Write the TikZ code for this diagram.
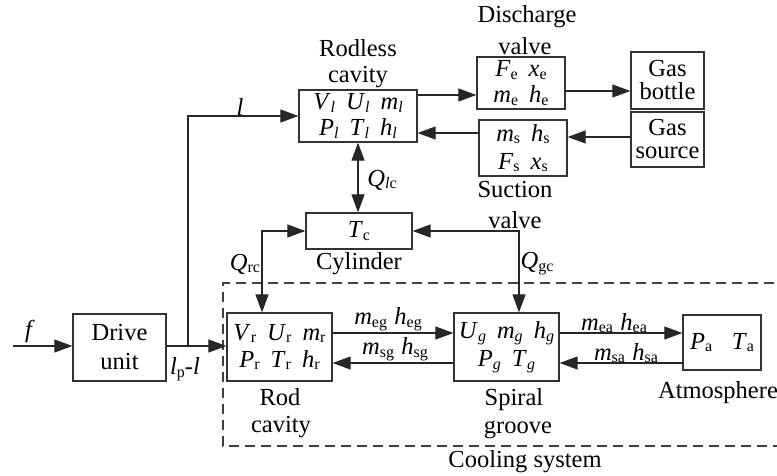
\documentclass[tikz,border=0pt]{standalone}
\usepackage{fontspec}
\setmainfont{Liberation Serif}
\usetikzlibrary{arrows.meta}
\newcommand\vr[2]{\textit{#1}\raisebox{-0.25ex}{\fontsize{16}{16}\selectfont #2}}
\newcommand\sep{\hspace{0.45em}}
\begin{document}
\begin{tikzpicture}[x=1pt,y=-1pt,
  every node/.style={font=\fontsize{24.5}{26}\selectfont, inner sep=0pt},
  blk/.style={draw=black!80, line width=1.3pt, align=center},
  lbl/.style={align=center},
  ln/.style={draw=black!85, line width=1.2pt},
  arr/.style={ln, -{Triangle[length=18pt,width=13pt]}},
  arrb/.style={ln, {Triangle[length=18pt,width=13pt]}-{Triangle[length=18pt,width=13pt]}}]
\useasboundingbox (0,0) rectangle (777,476);
% dashed cooling system
\draw[black!75, line width=1.1pt, dash pattern=on 10pt off 6pt] (790,283) -- (223,283) -- (223,446) -- (790,446);
% boxes
\node[blk, minimum width=118pt, minimum height=52pt] (rl) at (358,116) {\vr{V}{\textit{l}}\sep\vr{U}{\textit{l}}\sep\vr{m}{\textit{l}}\\[0pt]\vr{P}{\textit{l}}\sep\vr{T}{\textit{l}}\sep\vr{h}{\textit{l}}};
\node[blk, minimum width=88pt, minimum height=52pt] (dv) at (521,83) {\vr{F}{e}\sep\vr{x}{e}\\[0pt]\vr{m}{e}\sep\vr{h}{e}};
\node[blk, minimum width=73pt, minimum height=57pt] (gb) at (667.5,80.5) {Gas\\[-3pt]bottle};
\node[blk, minimum width=73pt, minimum height=55pt] (gs) at (667.5,139.5) {Gas\\[-3pt]source};
\node[blk, minimum width=88pt, minimum height=56pt] (sv) at (523,148) {\vr{m}{s}\sep\vr{h}{s}\\[2pt]\vr{F}{s}\sep\vr{x}{s}};
\node[blk, minimum width=106pt, minimum height=36pt] (cy) at (359,231) {\vr{T}{c}};
\node[blk, minimum width=93pt, minimum height=67pt] (du) at (119.5,347.5) {Drive\\[3pt]unit};
\node[blk, minimum width=105pt, minimum height=68pt] (rc) at (279.5,347) {\vr{V}{r}\sep\vr{U}{r}\sep\vr{m}{r}\\[1pt]\vr{P}{r}\sep\vr{T}{r}\sep\vr{h}{r}};
\node[blk, minimum width=105pt, minimum height=68pt] (sg) at (506.5,347) {\vr{U}{\textit{g}}\sep\vr{m}{\textit{g}}\sep\vr{h}{\textit{g}}\\[2pt]\vr{P}{\textit{g}}\sep\vr{T}{\textit{g}}\hspace{2.3em}};
\node[blk, minimum width=78pt, minimum height=55pt] (at) at (722,342.5) {\vr{P}{a}\hspace{0.8em}\vr{T}{a}};
% captions
\node[lbl] (c1) at (358,48) {Rodless};
\node[lbl] (c2) at (358,77) {cavity};
\node[lbl] (c3) at (527,17) {Discharge};
\node[lbl] (c4) at (525,46) {valve};
\node[lbl] (c5) at (515,190) {Suction};
\node[lbl] (c6) at (515,220) {valve};
\node[lbl] (c7) at (359,264) {Cylinder};
\node[lbl] (c8) at (280,397) {Rod};
\node[lbl] (c9) at (281,427) {cavity};
\node[lbl] (c10) at (514,400) {Spiral};
\node[lbl] (c11) at (518,430) {groove};
\node[lbl] (c12) at (718,393) {Atmosphere};
\node[lbl] (c13) at (525,462) {Cooling system};
% connector labels
\node (lf) at (30,331) {\textit{f}};
\node (ll) at (240,107) {\textit{l}};
\node (llp) at (185,369) {\textit{l}\raisebox{-0.25ex}{\fontsize{16}{16}\selectfont p}-\textit{l}};
\node (qlc) at (382,180) {\vr{Q}{\textit{l}c}};
\node (qrc) at (245,264) {\vr{Q}{rc}};
\node (qgc) at (537,264) {\vr{Q}{gc}};
\node (meg) at (388,319) {\vr{m}{eg}\hspace{0.3em}\vr{h}{eg}};
\node (msg) at (395,349) {\vr{m}{sg}\hspace{0.3em}\vr{h}{sg}};
\node (mea) at (614,323) {\vr{m}{ea}\hspace{0.3em}\vr{h}{ea}};
\node (msa) at (626,353) {\vr{m}{sa}\hspace{0.3em}\vr{h}{sa}};
% coordinates
\coordinate (fin) at (13,346);
\coordinate (br) at (188,346);
\coordinate (xr) at (262,231);
\coordinate (xg) at (519,231);
% connectors
\draw[arr] (fin) -- (du.west |- fin);
\draw[arr] (du.east |- br) -- (rc.west |- br);
\draw[arr] (br) |- (rl.west);
\draw[arr] (rl.east |- 0,95) -- (dv.west |- 0,95);
\draw[arr] (dv.east |- 0,91) -- (gb.west |- 0,91);
\draw[arr] (gs.west |- 0,137) -- (sv.east |- 0,137);
\draw[arr] (sv.west |- 0,133) -- (rl.east |- 0,133);
\draw[arrb] (rl.south) -- (rl.south |- cy.north);
\draw[arrb] (rc.north -| xr) |- (cy.west);
\draw[arrb] (sg.north -| xg) |- (cy.east);
\draw[arr] (rc.east |- 0,333) -- (sg.west |- 0,333);
\draw[arr] (sg.west |- 0,363) -- (rc.east |- 0,363);
\draw[arr] (sg.east |- 0,333) -- (at.west |- 0,333);
\draw[arr] (at.west |- 0,363) -- (sg.east |- 0,363);
\end{tikzpicture}
\end{document}
